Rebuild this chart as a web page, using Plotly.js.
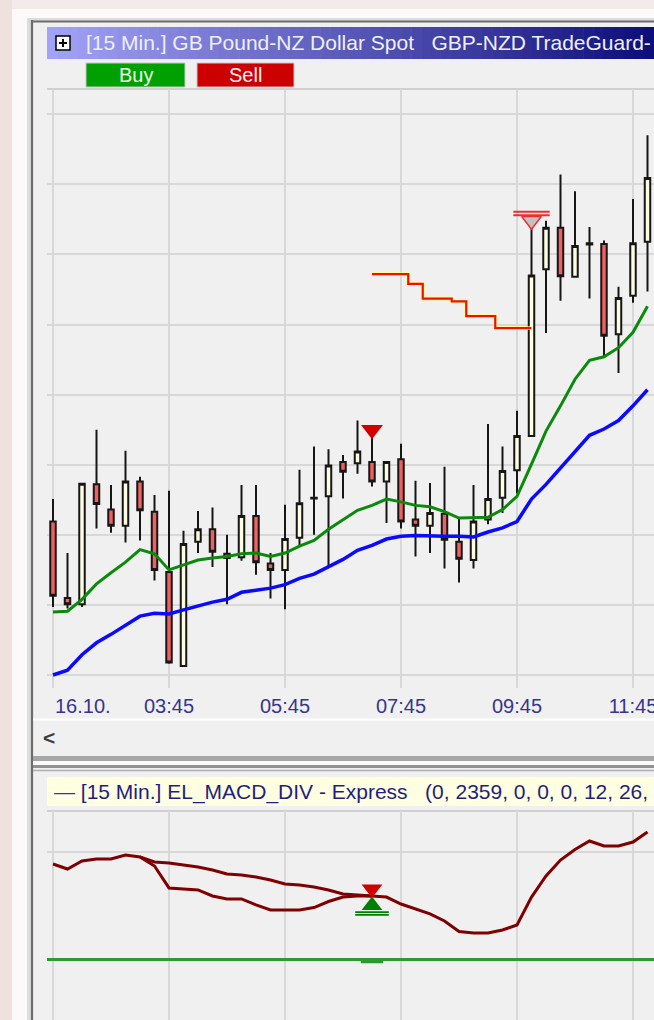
<!DOCTYPE html>
<html><head><meta charset="utf-8">
<script src="https://cdn.plot.ly/plotly-3.0.1.min.js"></script>
<style>html,body{margin:0;padding:0;background:#f0f0f0;overflow:hidden}#chart{width:654px;height:1020px}</style>
</head><body><div id="chart"></div>
<script>
// ---------- data ----------
const xTickBars = [0, 8, 16, 24, 32, 40];
const xTickLabels = ['16.10.', '03:45', '05:45', '07:45', '09:45', '11:45'];

const open  = [2.28219, 2.28110, 2.28101, 2.28272, 2.28236, 2.28213, 2.28276, 2.28233, 2.28147, 2.28013, 2.28190, 2.28208, 2.28173, 2.28168, 2.28227, 2.28159, 2.28150, 2.28196, 2.28253, 2.28255, 2.28304, 2.28302, 2.28304, 2.28276, 2.28308, 2.28222, 2.28213, 2.28230, 2.28190, 2.28164, 2.28222, 2.28253, 2.28292, 2.28341, 2.28579, 2.28638, 2.28568, 2.28616, 2.28615, 2.28486, 2.28541, 2.28618];
const high  = [2.28251, 2.28174, 2.28274, 2.28350, 2.28271, 2.28320, 2.28283, 2.28257, 2.28263, 2.28206, 2.28234, 2.28239, 2.28200, 2.28271, 2.28271, 2.28174, 2.28243, 2.28293, 2.28326, 2.28322, 2.28314, 2.28363, 2.28340, 2.28305, 2.28330, 2.28277, 2.28274, 2.28297, 2.28225, 2.28271, 2.28358, 2.28326, 2.28377, 2.28639, 2.28648, 2.28714, 2.28690, 2.28639, 2.28620, 2.28554, 2.28679, 2.28770];
const low   = [2.28097, 2.28095, 2.28097, 2.28209, 2.28203, 2.28189, 2.28192, 2.28135, 2.28016, 2.28012, 2.28174, 2.28154, 2.28101, 2.28163, 2.28143, 2.28109, 2.28094, 2.28185, 2.28200, 2.28154, 2.28252, 2.28287, 2.28269, 2.28217, 2.28209, 2.28169, 2.28174, 2.28152, 2.28132, 2.28152, 2.28215, 2.28231, 2.28259, 2.28340, 2.28488, 2.28534, 2.28567, 2.28537, 2.28454, 2.28431, 2.28531, 2.28547];
const close = [2.28113, 2.28101, 2.28273, 2.28244, 2.28213, 2.28276, 2.28235, 2.28150, 2.28018, 2.28187, 2.28208, 2.28176, 2.28167, 2.28227, 2.28161, 2.28150, 2.28194, 2.28245, 2.28252, 2.28299, 2.28290, 2.28319, 2.28276, 2.28304, 2.28219, 2.28213, 2.28231, 2.28193, 2.28166, 2.28219, 2.28251, 2.28291, 2.28341, 2.28570, 2.28638, 2.28569, 2.28612, 2.28614, 2.28484, 2.28538, 2.28616, 2.28709];

const emaFast = [2.28090, 2.28091, 2.28108, 2.28130, 2.28146, 2.28161, 2.28179, 2.28173, 2.28150, 2.28157, 2.28164, 2.28167, 2.28169, 2.28173, 2.28174, 2.28169, 2.28174, 2.28184, 2.28192, 2.28208, 2.28221, 2.28235, 2.28242, 2.28251, 2.28247, 2.28242, 2.28240, 2.28233, 2.28224, 2.28224, 2.28225, 2.28236, 2.28255, 2.28301, 2.28348, 2.28384, 2.28422, 2.28449, 2.28454, 2.28467, 2.28489, 2.28526];
const emaSlow = [2.28000, 2.28007, 2.28029, 2.28046, 2.28058, 2.28071, 2.28084, 2.28088, 2.28087, 2.28093, 2.28099, 2.28104, 2.28108, 2.28118, 2.28121, 2.28124, 2.28129, 2.28138, 2.28144, 2.28154, 2.28165, 2.28178, 2.28185, 2.28194, 2.28198, 2.28199, 2.28198, 2.28198, 2.28198, 2.28197, 2.28204, 2.28210, 2.28219, 2.28251, 2.28272, 2.28295, 2.28319, 2.28342, 2.28351, 2.28363, 2.28384, 2.28407];

const stopBars  = [22, 23, 24, 25, 26, 27, 28, 29, 30, 31, 32, 33];
const stopLevel = [2.28572, 2.28572, 2.28572, 2.28558, 2.28537, 2.28537, 2.28533, 2.28512, 2.28512, 2.28495, 2.28495, 2.28495];

const sellBar = [22], sellPrice = [2.28350];
const exitBar = [33], exitPrice = [2.28648];
const exitBarLines = [33, 33], exitLinePrice = [2.28661, 2.28656];

const macd = [0.000888, 0.000841, 0.000916, 0.000935, 0.000935, 0.000972, 0.000953, 0.000869, 0.000664, 0.000654, 0.000645, 0.000589, 0.000561, 0.000561, 0.000505, 0.000458, 0.000458, 0.000458, 0.000481, 0.000537, 0.000579, 0.000589, 0.000589, 0.000579, 0.000514, 0.000467, 0.000421, 0.000355, 0.000257, 0.000243, 0.000243, 0.000271, 0.000318, 0.000579, 0.000776, 0.000925, 0.001023, 0.001103, 0.001056, 0.001056, 0.001093, 0.001187];
const divBars = [6, 7, 8, 9, 10, 11, 12, 13, 14, 15, 16, 17, 18, 19, 20, 21, 22];
const divLine = [0.000953, 0.000907, 0.000897, 0.000879, 0.000860, 0.000832, 0.000794, 0.000785, 0.000766, 0.000738, 0.000701, 0.000692, 0.000673, 0.000645, 0.000607, 0.000598, 0.000589];
const macdSignalBar = [22];
const macdSellVal = [0.000654];
const macdBuyVal = [0.000500];
const macdBuyLineBars = [22, 22], macdBuyLineVals = [0.000438, 0.000412];
const macdZeroMark = [-0.000028];

// ---------- figure ----------
const bars = open.map((_, i) => i);
const W = 654, H = 1020;
const px = x => x / W, py = y => 1 - y / H;
const FONT = 'Liberation Sans, Arial, sans-serif';

const traces = [
  {x: bars, y: emaSlow, type: 'scatter', mode: 'lines', line: {color: '#0a0aff', width: 3.5}, xaxis: 'x', yaxis: 'y', hoverinfo: 'skip'},
  {x: bars, y: emaFast, type: 'scatter', mode: 'lines', line: {color: '#0a8a0a', width: 3}, xaxis: 'x', yaxis: 'y', hoverinfo: 'skip'},
  {x: stopBars, y: stopLevel, type: 'scatter', mode: 'lines', line: {color: 'rgba(255,255,120,0.7)', width: 4, shape: 'hvh'}, xaxis: 'x', yaxis: 'y', hoverinfo: 'skip'},
  {x: stopBars, y: stopLevel, type: 'scatter', mode: 'lines', line: {color: '#f01000', width: 2.2, shape: 'hvh'}, xaxis: 'x', yaxis: 'y', hoverinfo: 'skip'},
  {x: bars, open: open, high: high, low: low, close: close, type: 'candlestick', xaxis: 'x', yaxis: 'y',
   increasing: {fillcolor: '#fdfde2', line: {color: '#161616', width: 2}},
   decreasing: {fillcolor: '#f06060', line: {color: '#161616', width: 2}},
   whiskerwidth: 0, hoverinfo: 'skip'},
  {x: sellBar, y: sellPrice, type: 'scatter', mode: 'markers', marker: {symbol: 'triangle-down', size: 19, color: '#d40000', line: {width: 0}}, xaxis: 'x', yaxis: 'y'},
  {x: exitBar, y: exitPrice, type: 'scatter', mode: 'markers', marker: {symbol: 'triangle-down', size: 17, color: '#c2c2c2', line: {color: '#e83030', width: 1.5}}, xaxis: 'x', yaxis: 'y'},
  {x: exitBarLines, y: exitLinePrice, type: 'scatter', mode: 'markers', marker: {symbol: 'line-ew', size: 26, line: {color: '#e83030', width: 2}}, xaxis: 'x', yaxis: 'y'},
  // lower panel
  {x: divBars, y: divLine, type: 'scatter', mode: 'lines', line: {color: '#7f0000', width: 3}, xaxis: 'x2', yaxis: 'y2'},
  {x: bars, y: macd, type: 'scatter', mode: 'lines', line: {color: '#7f0000', width: 3}, xaxis: 'x2', yaxis: 'y2'},
  {x: macdSignalBar, y: macdSellVal, type: 'scatter', mode: 'markers', marker: {symbol: 'triangle-down', size: 18, color: '#d00000'}, xaxis: 'x2', yaxis: 'y2'},
  {x: macdSignalBar, y: macdBuyVal, type: 'scatter', mode: 'markers', marker: {symbol: 'triangle-up', size: 18, color: '#008000'}, xaxis: 'x2', yaxis: 'y2'},
  {x: macdBuyLineBars, y: macdBuyLineVals, type: 'scatter', mode: 'markers', marker: {symbol: 'line-ew', size: 24, line: {color: '#008000', width: 1.6}}, xaxis: 'x2', yaxis: 'y2'},
  {x: macdSignalBar, y: macdZeroMark, type: 'scatter', mode: 'markers', marker: {symbol: 'line-ew', size: 16, line: {color: '#2a9a2a', width: 2.5}}, xaxis: 'x2', yaxis: 'y2'}
];

const shapes = [];
function rect(x0, y0, x1, y1, fill, lineColor, lw) {
  shapes.push({type: 'rect', xref: 'paper', yref: 'paper', x0: px(x0), x1: px(x1), y0: py(y1), y1: py(y0),
    fillcolor: fill, line: {color: lineColor || fill, width: lw || 0}, layer: 'below'});
}
function hline(x0, x1, y, color, w) {
  shapes.push({type: 'line', xref: 'paper', yref: 'paper', x0: px(x0), x1: px(x1), y0: py(y), y1: py(y), line: {color: color, width: w}, layer: 'below'});
}
function vline(x, y0, y1, color, w) {
  shapes.push({type: 'line', xref: 'paper', yref: 'paper', x0: px(x), x1: px(x), y0: py(y0), y1: py(y1), line: {color: color, width: w}, layer: 'below'});
}
// surroundings
rect(0, 0, 654, 22, '#f4eae9');
rect(0, 0, 12, 1020, '#eee1de');
rect(12, 9, 654, 20, '#fbf9f9');
rect(12, 9, 29, 1020, '#fbf9f9');
rect(27, 18, 31, 1020, '#dcdcdc');
rect(27, 18, 654, 21, '#dcdcdc');
vline(32, 20, 1020, '#6c6c6c', 2.2);
hline(31, 654, 21.5, '#6c6c6c', 2);
// title bar gradient
const N = 60, c0 = [162, 162, 246], c1 = [14, 14, 122];
for (let k = 0; k < N; k++) {
  const t = k / (N - 1);
  const c = c0.map((v, j) => Math.round(v + (c1[j] - v) * t));
  const x0 = 47 + k * (654 - 47) / N, x1 = 47 + (k + 1) * (654 - 47) / N + 0.6;
  rect(x0, 27, x1, 59, 'rgb(' + c.join(',') + ')');
}
// plus icon
rect(56, 36, 70, 50, '#ffffff', '#000000', 1.5);
hline(59, 67, 43, '#000000', 2);
vline(63, 39, 47, '#000000', 2);
// buttons
rect(86, 63, 185, 87, '#00a000', '#c8c8c8', 1);
rect(197, 63, 294, 87, '#cc0000', '#c8c8c8', 1);
// main plot top border
hline(47, 654, 89, '#cfcfcf', 2);
// x-axis area / scroll separators
hline(33, 654, 719.5, '#ffffff', 2);
rect(33, 756, 654, 761, '#a6a6a6');
rect(33, 761, 654, 765, '#fafafa');
rect(33, 765, 654, 768, '#929292');
hline(33, 654, 770.5, '#b0b0b0', 1.5);
// legend box of lower panel
rect(47, 777, 654, 806, '#ffffe1');
hline(47, 654, 811, '#cfcfcf', 2);

const annotations = [
  {xref: 'paper', yref: 'paper', x: px(84), y: py(43), xanchor: 'left', yanchor: 'middle', showarrow: false,
   text: '[15 Min.] GB Pound-NZ Dollar Spot\u00a0\u00a0\u00a0GBP-NZD TradeGuard-', font: {family: FONT, size: 21, color: '#eef0ff'}},
  {xref: 'paper', yref: 'paper', x: px(135.5), y: py(75), xanchor: 'center', yanchor: 'middle', showarrow: false,
   text: 'Buy', font: {family: FONT, size: 20, color: '#eaffea'}},
  {xref: 'paper', yref: 'paper', x: px(245.5), y: py(75), xanchor: 'center', yanchor: 'middle', showarrow: false,
   text: 'Sell', font: {family: FONT, size: 20, color: '#fff0f0'}},
  {xref: 'paper', yref: 'paper', x: px(41), y: py(737), xanchor: 'left', yanchor: 'middle', showarrow: false,
   text: '<b>&lt;</b>', font: {family: FONT, size: 21, color: '#3c3c3c'}},
  {xref: 'paper', yref: 'paper', x: px(52), y: py(792), xanchor: 'left', yanchor: 'middle', showarrow: false,
   text: '<span style="color:#2828ff">\u2014</span> [15 Min.] EL_MACD_DIV - Express\u00a0\u00a0\u00a0(0, 2359, 0, 0, 0, 12, 26,',
   font: {family: FONT, size: 21, color: '#1e1e80'}},
  {xref: 'x', yref: 'paper', x: xTickBars[0], y: py(706), xanchor: 'left', yanchor: 'middle', showarrow: false,
   text: xTickLabels[0], font: {family: FONT, size: 20, color: '#35358f'}}
];

const xRange = [(47 - 53) / 14.5, (654 - 53) / 14.5];
const layout = {
  width: W, height: H,
  margin: {l: 0, r: 0, t: 0, b: 0, pad: 0},
  paper_bgcolor: '#f0f0f0', plot_bgcolor: '#f0f0f0',
  showlegend: false,
  boxgap: 0.46,
  xaxis: {domain: [px(47), 1], range: xRange, rangeslider: {visible: false}, showgrid: true, gridcolor: '#d8d8d8', gridwidth: 2,
          tickmode: 'array', tickvals: xTickBars, ticktext: xTickLabels.map((t, i) => i === 0 ? '' : t),
          ticks: '', showline: false, zeroline: false, tickfont: {family: FONT, size: 20, color: '#35358f'}, ticklabelstandoff: 4,
          ticklabeloverflow: 'allow', anchor: 'y'},
  yaxis: {domain: [py(688), py(89)], range: [2.279815, 2.288360], showgrid: true, gridcolor: '#d8d8d8', gridwidth: 2,
          tick0: 2.28, dtick: 0.001, showticklabels: false, ticks: '', zeroline: false, showline: false, anchor: 'x'},
  xaxis2: {domain: [px(47), 1], range: xRange, matches: 'x', showgrid: true, gridcolor: '#d8d8d8', gridwidth: 2,
           tickmode: 'array', tickvals: xTickBars, showticklabels: false, ticks: '', zeroline: false, showline: false, anchor: 'y2'},
  yaxis2: {domain: [0, py(811)], range: [-0.000570, 0.001383], showgrid: true, gridcolor: '#d8d8d8', gridwidth: 2,
           tick0: 0, dtick: 0.001, showticklabels: false, ticks: '', zeroline: true, zerolinecolor: '#2e9a2e', zerolinewidth: 3, showline: false, anchor: 'x2'},
  shapes: shapes,
  annotations: annotations
};

Plotly.newPlot('chart', traces, layout, {displayModeBar: false, staticPlot: true});
</script>
</body></html>
